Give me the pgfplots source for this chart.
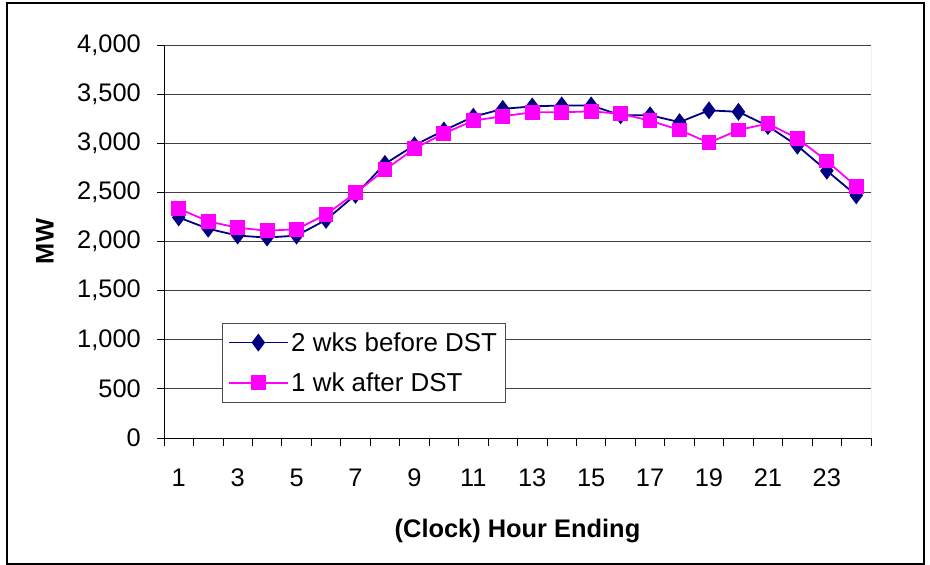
\documentclass[border=0pt]{standalone}
\usepackage{pgfplots}
\pgfplotsset{compat=1.18}
\usepackage{fontspec}
\setmainfont{Liberation Sans}

\definecolor{navyline}{HTML}{000080}
\definecolor{pinkline}{HTML}{FF00FF}

\begin{document}
\begin{tikzpicture}[x=1bp,y=1bp]
% page extent and outer frame
\path[use as bounding box] (0,0) rectangle (930,-565);
\draw[line width=1.3bp] (7,-3) rectangle (924,-564);
\begin{axis}[
  at={(164bp,-438bp)}, anchor=south west,
  width=707bp, height=393bp, scale only axis,
  xmin=0.5, xmax=24.5, ymin=0, ymax=4000,
  axis lines=left, axis line style={-, line width=1bp, black},
  tick align=outside,
  xtick={1,3,...,23},
  major x tick style={draw=none},
  minor xtick={0.5,1.5,...,24.5},
  minor tick length=8bp,
  minor x tick style={line width=0.8bp, black},
  ytick={0,500,...,4000},
  major tick length=7bp,
  major y tick style={line width=0.8bp, black},
  ymajorgrids, major grid style={black!75, line width=0.9bp},
  /pgf/number format/.cd, 1000 sep={,}, assume math mode=true,
  /pgfplots/.cd,
  tick label style={font=\fontsize{25.5}{30}\selectfont},
  yticklabel style={anchor=east, inner sep=0pt, xshift=-16bp},
  xticklabel style={anchor=north, inner sep=0pt, yshift=-24bp},
  xlabel={(Clock) Hour Ending},
  ylabel={MW},
  label style={font=\bfseries\fontsize{25.5}{30}\selectfont},
  x label style={at={(axis description cs:0.5,-0.2366)}, anchor=center},
  y label style={at={(axis description cs:-0.1683,0.5)}, anchor=center, rotate=0},
  legend style={at={(axis description cs:0.082,0.2926)}, anchor=north west,
    draw=black!70, line width=0.9bp, inner xsep=6bp, inner ysep=7bp,
    row sep=16bp,
    font=\fontsize{26}{30}\selectfont, cells={anchor=west}},
  legend image code/.code={%
    \path (0bp,0bp) -- (59bp,0bp);
    \draw[mark repeat=2, mark phase=2, #1]
      plot coordinates {(3bp,0bp) (29bp,0bp) (55bp,0bp)};},
]
\addplot[navyline, line width=1.8bp, mark=diamond*, mark size=7.5bp,
  mark options={solid, fill=navyline, draw=navyline}]
coordinates {
(1,2245) (2,2130) (3,2060) (4,2040) (5,2060) (6,2220) (7,2475) (8,2790)
(9,2980) (10,3130) (11,3270) (12,3350) (13,3375) (14,3385) (15,3385)
(16,3285) (17,3285) (18,3215) (19,3335) (20,3320) (21,3175) (22,2975)
(23,2720) (24,2470)};
\addlegendentry{2 wks before DST}
\addplot[pinkline, line width=1.8bp, mark=square*, mark size=6.5bp,
  mark options={solid, fill=pinkline, draw=pinkline}]
coordinates {
(1,2335) (2,2205) (3,2140) (4,2110) (5,2125) (6,2275) (7,2495) (8,2730)
(9,2945) (10,3100) (11,3230) (12,3275) (13,3315) (14,3315) (15,3325)
(16,3300) (17,3230) (18,3135) (19,3005) (20,3135) (21,3200) (22,3050)
(23,2820) (24,2560)};
\addlegendentry{1 wk after DST}
% plot-area border on the right
\draw[black!45, line width=1bp] (rel axis cs:1,0) -- (rel axis cs:1,1);
\end{axis}
\end{tikzpicture}
\end{document}
